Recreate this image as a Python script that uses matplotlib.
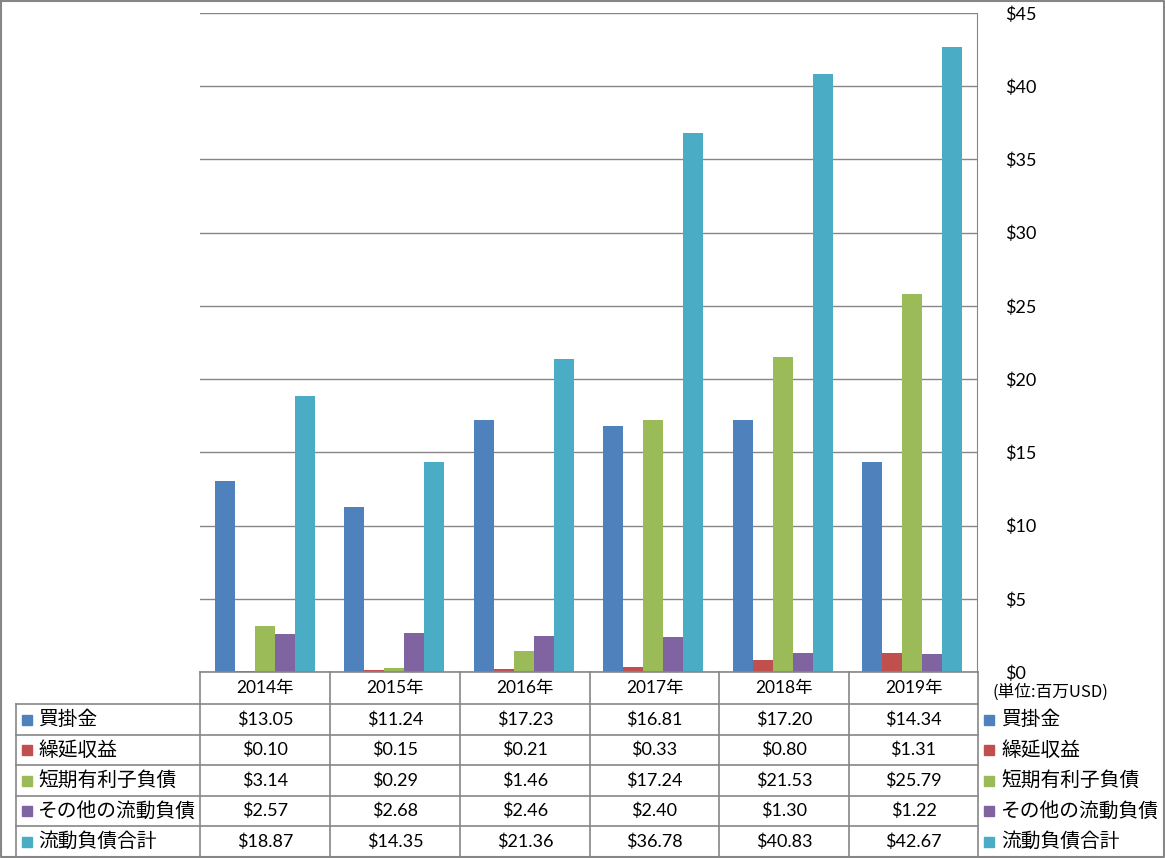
import numpy as np
import matplotlib
matplotlib.use("Agg")
import matplotlib.pyplot as plt

plt.rcParams['font.family'] = ['Noto Sans CJK JP', 'DejaVu Sans']

years = ['2014年', '2015年', '2016年', '2017年', '2018年', '2019年']
series = ['買掛金', '繰延収益', '短期有利子負債', 'その他の流動負債', '流動負債合計']
kaikake = [13.05, 11.24, 17.23, 16.81, 17.20, 14.34]
enki = [0.10, 0.15, 0.21, 0.33, 0.80, 1.31]
tanki = [3.14, 0.29, 1.46, 17.24, 21.53, 25.79]
sonota = [2.57, 2.68, 2.46, 2.40, 1.30, 1.22]
goukei = [18.87, 14.35, 21.36, 36.78, 40.83, 42.67]
values = [kaikake, enki, tanki, sonota, goukei]
colors = ['#4F81BD', '#C0504D', '#9BBB59', '#8064A2', '#4BACC6']
yticks = [0, 5, 10, 15, 20, 25, 30, 35, 40, 45]

W, H = 1165, 858
fig = plt.figure(figsize=(W / 100, H / 100), dpi=100)
num_font = ['Lato', 'Noto Sans CJK JP']
grid_c = '#868686'

# plot area in pixels
px_l, px_r, px_t, px_b = 200, 977, 13, 672
ax = fig.add_axes([px_l / W, (H - px_b) / H, (px_r - px_l) / W, (px_b - px_t) / H])
x = np.arange(len(years))
bw = 20 / 130
for i, (vals, c) in enumerate(zip(values, colors)):
    ax.bar(x + (i - 2) * bw, vals, width=bw, color=c, zorder=3)
ax.set_xlim(-0.5, len(years) - 0.5)
ax.set_ylim(0, 45)
ax.set_yticks(yticks)
ax.set_yticklabels(['$' + str(v) for v in yticks], fontsize=13, family=num_font)
ax.yaxis.tick_right()
ax.tick_params(axis='y', length=0, pad=20)
ax.tick_params(axis='x', length=0, labelbottom=False)
ax.grid(axis='y', color=grid_c, linewidth=1, zorder=0)
for s in ['left', 'top', 'bottom']:
    ax.spines[s].set_visible(False)
ax.spines['right'].set_color(grid_c)
for lbl in ax.get_yticklabels():
    lbl.set_horizontalalignment('left')

# overlay for table and legends, pixel coordinates
ov = fig.add_axes([0, 0, 1, 1], zorder=5)
ov.set_xlim(0, W)
ov.set_ylim(H, 0)
ov.axis('off')
ov.patch.set_alpha(0)

# outer frame
ov.plot([1, W - 1, W - 1, 1, 1], [1, 1, H - 1, H - 1, 1], color=grid_c, lw=1.5)

col_x = [200, 330, 460, 590, 719, 849, 978]
row_y = [672, 704, 735, 765, 796, 826, 857]
ov.plot([200, 978], [672, 672], color=grid_c, lw=1.2)
for yy in row_y[1:-1]:
    ov.plot([16, 978], [yy, yy], color=grid_c, lw=1.2)
for xx in col_x:
    ov.plot([xx, xx], [672, 857], color=grid_c, lw=1.2)
ov.plot([16, 16], [704, 857], color=grid_c, lw=1.2)

for j, yl in enumerate(years):
    cx = (col_x[j] + col_x[j + 1]) / 2
    ov.text(cx, (row_y[0] + row_y[1]) / 2, yl, ha='center', va='center',
            fontsize=12.5, family=num_font)

for i, (name, vals, c) in enumerate(zip(series, values, colors)):
    cy = (row_y[i + 1] + row_y[i + 2]) / 2
    ov.add_patch(plt.Rectangle((22, cy - 5), 10, 10, color=c))
    ov.text(38, cy, name, ha='left', va='center', fontsize=14.2)
    for j, v in enumerate(vals):
        cx = (col_x[j] + col_x[j + 1]) / 2
        ov.text(cx, cy, '${:.2f}'.format(v), ha='center', va='center',
                fontsize=13, family=num_font)
    ov.add_patch(plt.Rectangle((984, cy - 5), 10, 10, color=c))
    ov.text(1001, cy, name, ha='left', va='center', fontsize=14.2)

ov.text(992, 692, '(単位:百万USD)', ha='left', va='center', fontsize=12)

fig.savefig('out.png', dpi=100)
